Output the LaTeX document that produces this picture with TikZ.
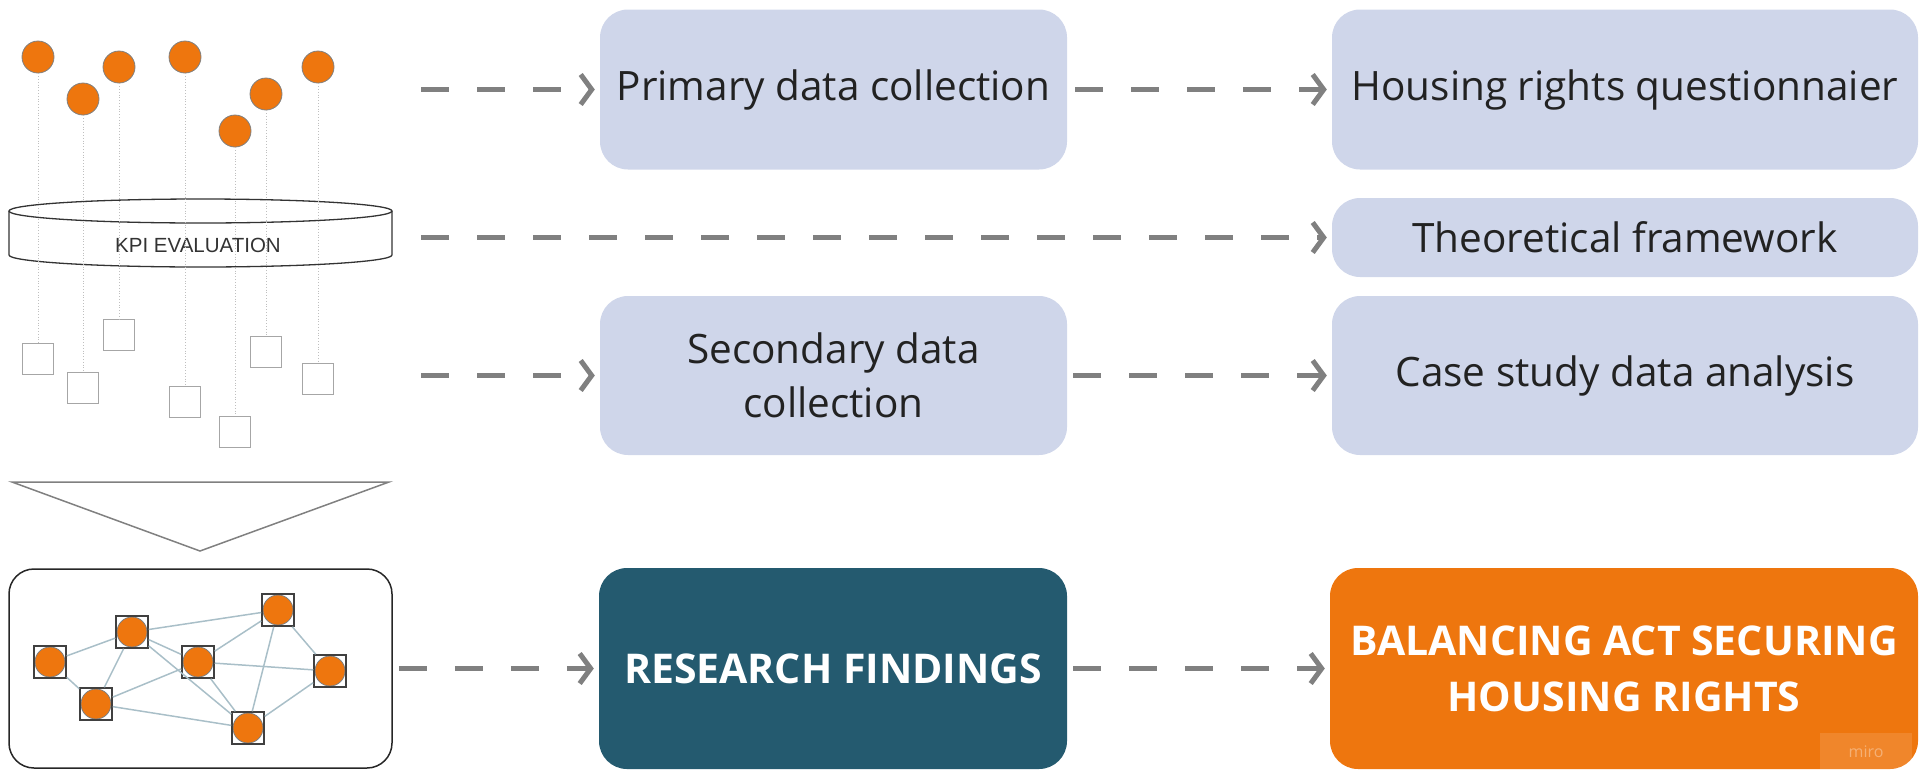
\documentclass[tikz,border=0pt]{standalone}
\usepackage{fontspec}
\setmainfont{Open Sans}
\newfontfamily\kpifont{Liberation Sans}
\usetikzlibrary{arrows.meta}

\definecolor{boxblue}{HTML}{CFD6EA}
\definecolor{findteal}{HTML}{245A6F}
\definecolor{goalorange}{HTML}{EE760E}
\definecolor{flowgray}{HTML}{808080}
\definecolor{netblue}{HTML}{A9BFC8}
\definecolor{inkdark}{HTML}{222222}

\tikzset{
  flowbox/.style={fill=boxblue, rounded corners=28pt, inner sep=0pt, align=center,
    text=inkdark, font=\fontsize{40.5}{54}\selectfont},
  findbox/.style={flowbox, fill=findteal, text=white, font=\bfseries\fontsize{41}{56}\selectfont},
  goalbox/.style={findbox, fill=goalorange},
  flow/.style={draw=flowgray, line width=5pt, dash pattern=on 28pt off 28pt,
    -{Straight Barb[length=11pt,width=30pt]}, shorten >=5pt},
  kpidot/.style={circle, fill=goalorange, draw=gray, line width=0.8pt, minimum size=32pt, inner sep=0pt},
  kpibin/.style={rectangle, draw=gray!70, fill=white, line width=1.5pt, minimum size=31pt, inner sep=0pt},
  thread/.style={draw=gray!50, line width=0.8pt, dotted},
  kpiline/.style={draw=black!80, line width=1.3pt},
  netnode/.style={rectangle, draw=black!75, fill=white, line width=1.5pt, minimum size=32pt, inner sep=0pt,
    path picture={\filldraw[fill=goalorange, draw=gray, line width=0.8pt]
      (path picture bounding box.center) circle (15pt);}},
  netlink/.style={draw=netblue, line width=1.5pt},
}

\begin{document}
\begin{tikzpicture}[x=1pt,y=-1pt]
  \useasboundingbox (0,0) rectangle (1919,769);

  % evaluation disc
  \draw[kpiline] (9,211) -- (9,255)
    arc[start angle=180,end angle=0,x radius=191.5,y radius=12] -- (392,211);
  \draw[kpiline] (200.5,211) ellipse [x radius=191.5,y radius=12];
  \node[font=\kpifont\fontsize{20.5}{24}\selectfont, text=black!80] (kpi) at (198,245) {KPI EVALUATION};

  % indicators and their bins
  \draw
    (38,57) node[kpidot] (c1){}
    (83,99) node[kpidot] (c2){}
    (119,67) node[kpidot] (c3){}
    (185,57) node[kpidot] (c4){}
    (235,131) node[kpidot] (c5){}
    (266,94) node[kpidot] (c6){}
    (318,67) node[kpidot] (c7){}
    (38,359) node[kpibin] (s1){}
    (83,388) node[kpibin] (s2){}
    (119,335) node[kpibin] (s3){}
    (185,402) node[kpibin] (s4){}
    (235,432) node[kpibin] (s5){}
    (266,352) node[kpibin] (s6){}
    (318,379) node[kpibin] (s7){};
  \begin{scope}[thread]
    \draw (c1) to (s1);
    \draw (c2) to (s2);
    \draw (c3) to (s3);
    \draw (c4) to (s4);
    \draw (c5) to (s5);
    \draw (c6) to (s6);
    \draw (c7) to (s7);
  \end{scope}

  % funnel and network
  \draw[draw=gray, line width=1.5pt] (12,482) -- (389,482) -- (200,551) -- cycle;
  \node[draw=black!85, line width=1.5pt, rounded corners=25pt, minimum width=383pt,
    minimum height=199pt, inner sep=0pt] (netbox) at (200.5,668.5) {};
  \draw
    (50,662) node[netnode] (n1){}
    (132,632) node[netnode] (n2){}
    (198,662) node[netnode] (n3){}
    (278,610) node[netnode] (n4){}
    (330,671) node[netnode] (n5){}
    (96,704) node[netnode] (n6){}
    (248,728) node[netnode] (n7){};
  \begin{scope}[netlink]
    \draw (n1) to (n2);
    \draw (n1) to (n6);
    \draw (n2) to (n6);
    \draw (n2) to (n3);
    \draw (n2) to (n4);
    \draw (n2) to (n7);
    \draw (n3) to (n4);
    \draw (n3) to (n5);
    \draw (n3) to (n6);
    \draw (n3) to (n7);
    \draw (n4) to (n7);
    \draw (n4) to (n5);
    \draw (n5) to (n7);
    \draw (n6) to (n7);
  \end{scope}

  % process boxes
  \draw
    (833.5,89.5) node[flowbox, minimum width=467pt, minimum height=160pt] (primary){Primary data collection}
    (1625,89.5) node[flowbox, minimum width=586pt, minimum height=160pt] (housing){Housing rights questionnaier}
    (1625,237.5) node[flowbox, minimum width=586pt, minimum height=79pt] (theory){Theoretical framework}
    (833.5,375.5) node[flowbox, minimum width=467pt, minimum height=159pt] (secondary){Secondary data\\collection}
    (1625,375.5) node[flowbox, minimum width=586pt, minimum height=159pt] (casestudy){Case study data analysis}
    (833,668.5) node[findbox, minimum width=468pt, minimum height=201pt] (findings){RESEARCH FINDINGS}
    (1624,668.5) node[goalbox, minimum width=588pt, minimum height=201pt] (balance){BALANCING ACT SECURING\\HOUSING RIGHTS};
  \node[fill=white, fill opacity=0.12, text=white, text opacity=0.35, minimum width=92pt,
    minimum height=38pt, inner sep=0pt, font=\fontsize{16}{16}\selectfont] (mirotag) at (1866,752) {miro};

  % dashed flow arrows
  \coordinate (src1) at (421,89.5);
  \coordinate (src2) at (421,237.5);
  \coordinate (src3) at (421,375.5);
  \begin{scope}[flow]
    \draw (src1) to (primary);
    \draw (src2) to (theory);
    \draw (src3) to (secondary);
    \draw[shorten <=6pt] (netbox) to (findings);
    \draw[shorten <=8pt] (primary) to (housing);
    \draw[shorten <=6pt] (secondary) to (casestudy);
    \draw[shorten <=6pt] (findings) to (balance);
  \end{scope}
\end{tikzpicture}
\end{document}
